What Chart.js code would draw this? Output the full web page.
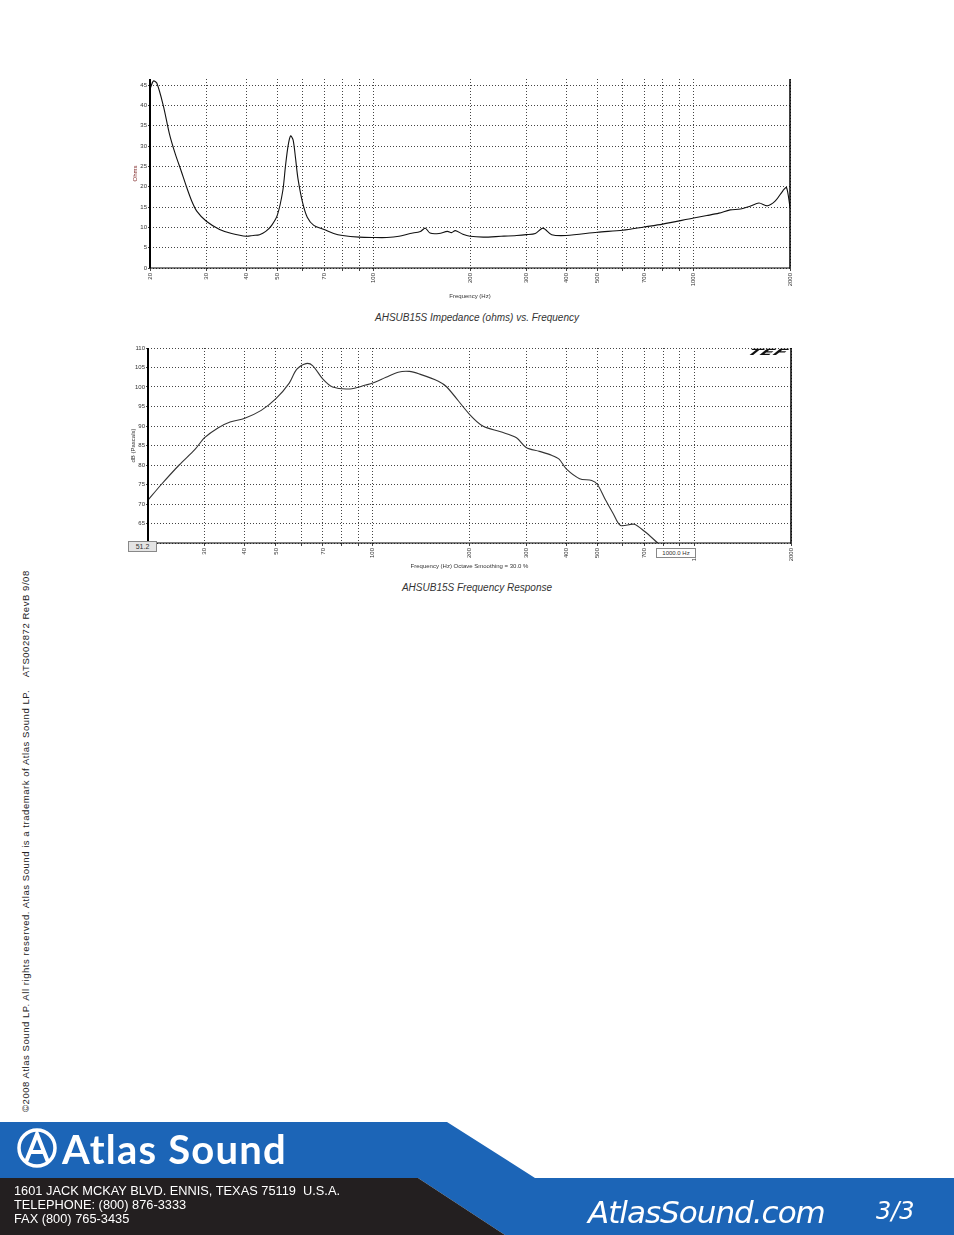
<!DOCTYPE html>
<html><head><meta charset="utf-8">
<script src="https://cdn.jsdelivr.net/npm/chart.js@4"></script>
<style>
body{margin:0;width:954px;height:1235px;position:relative;background:#fff;font-family:"Liberation Sans",Arial,sans-serif;overflow:hidden}
.abs{position:absolute}
.cap{position:absolute;width:954px;text-align:center;font-style:italic;font-size:10px;color:#333}
</style></head><body>
<div class="abs" style="left:132px;top:70px;width:678px;height:230px"><canvas id="c1" width="678" height="230"></canvas></div>
<div class="cap" style="top:312px">AHSUB15S Impedance (ohms) vs. Frequency</div>
<div class="abs" style="left:130px;top:340px;width:681px;height:230px"><canvas id="c2" width="681" height="230"></canvas></div>
<div class="cap" style="top:582px">AHSUB15S Frequency Response</div>
<div class="abs" style="left:128px;top:541px;width:27px;height:9px;background:#e4e4e4;border:1px solid #888;font-size:7px;line-height:9px;text-align:center;color:#333">51.2</div>
<div class="abs" style="left:656px;top:548px;width:38px;height:8px;background:#fff;border:1px solid #888;font-size:6px;line-height:8px;text-align:center;color:#333">1000.0 Hz</div>
<div class="abs" style="left:752px;top:348px;font-size:13px;line-height:13px;font-weight:bold;font-style:italic;color:#111;transform:scale(1.45,0.65) skewX(-20deg);transform-origin:top left;font-family:'DejaVu Sans',sans-serif">TEF</div>
<div class="abs" style="left:20px;top:1112px;transform:rotate(-90deg);transform-origin:top left;font-size:9.5px;white-space:nowrap;color:#222;letter-spacing:0.55px">©2008 Atlas Sound LP. All rights reserved. Atlas Sound is a trademark of Atlas Sound LP. &nbsp;&nbsp;&nbsp;ATS002872 RevB 9/08</div>
<svg class="abs" style="left:0;top:0" width="954" height="1235">
<polygon points="0,1122 447,1122 535,1178 954,1178 954,1235 505,1235 418,1178 0,1178" fill="#1c65b7"/>
<polygon points="0,1178 418,1178 505,1235 0,1235" fill="#231f20"/>
<circle cx="37" cy="1148" r="18" fill="none" stroke="#fff" stroke-width="3.5"/>
<path d="M26,1162 L37,1134 L48,1162 M31,1152 L44,1152" fill="none" stroke="#fff" stroke-width="4"/>
</svg>
<div class="abs" style="left:62px;top:1125px;font-family:Lato,sans-serif;font-weight:bold;font-size:40px;color:#fff;letter-spacing:1.2px">Atlas Sound</div>
<div class="abs" style="left:14px;top:1184px;font-size:12.8px;line-height:14px;color:#fff">1601 JACK MCKAY BLVD. ENNIS, TEXAS 75119&nbsp; U.S.A.<br>TELEPHONE: (800) 876-3333<br>FAX (800) 765-3435</div>
<div class="abs" style="left:588px;top:1194px;font-size:31px;font-style:italic;color:#fff;font-family:'DejaVu Sans',sans-serif;letter-spacing:-1px">AtlasSound.com</div>
<div class="abs" style="left:876px;top:1197px;font-size:24px;font-style:italic;color:#fff;font-family:'DejaVu Sans',sans-serif">3/3</div>
<script>
const gridFreqs=[20,30,40,50,60,70,80,90,100,200,300,400,500,600,700,800,900,1000,2000];
const labeledFreqs=[20,30,40,50,70,100,200,300,400,500,700,1000,2000];
const impFreq=[20,20.5,21,22,23,24,25,26,27,28,30,33,36,40,42,44,46,48,50,52,53,54,55,56,57,58,60,62,65,70,75,80,90,100,110,120,130,140,145,150,160,170,175,180,190,200,220,250,280,300,320,338,360,400,500,600,700,800,1000,1100,1200,1300,1400,1500,1600,1700,1800,1900,1950,2000];
const impOhms=[44,46,45.5,40,33,28,24,20,16.5,14,11.5,9.5,8.5,7.8,8.0,8.2,9.0,10.5,13,19,25,30,32.5,31.5,27,22,16,12.5,10.5,9.5,8.5,8.0,7.6,7.5,7.5,7.8,8.5,9.0,9.8,8.6,8.5,9.0,8.7,9.2,8.3,7.8,7.6,7.8,8.0,8.2,8.5,9.8,8.2,8.0,8.8,9.3,10.1,10.8,12.3,12.9,13.5,14.3,14.5,15.2,16.0,15.3,16.5,19.0,19.8,15.0];
const frFreq=[20,22,25,28,30,33,36,40,45,50,55,58,62,65,70,75,85,95,100,110,120,130,140,160,170,200,220,250,280,300,330,360,380,400,440,480,500,530,560,590,650,700,770];
const frDb=[71,75,80,84,87,89.5,91,92,94,97,101,104.5,106,105.5,102,100,99.5,100.5,101,102.5,103.8,104,103.3,101.5,100,93,90,88.5,87,84.5,83.5,82.5,81.5,79,76.5,76,75,71,67.5,64.5,64.8,63,60];
const impTicks=[0,5,10,15,20,25,30,35,40,45];
const frTicks=[60,65,70,75,80,85,90,95,100,105,110];

function xy(xs,ys){return xs.map((x,i)=>({x:x,y:ys[i]}));}
const frame={id:'frame',afterDraw(c){const a=c.chartArea,g=c.ctx;g.save();g.strokeStyle='#000';g.lineWidth=2;g.beginPath();g.moveTo(a.left,a.top);g.lineTo(a.left,a.bottom);g.stroke();g.lineWidth=1.5;g.beginPath();g.moveTo(a.right,a.top);g.lineTo(a.right,a.bottom);g.stroke();g.lineWidth=1;g.beginPath();g.moveTo(a.left,a.bottom);g.lineTo(a.right,a.bottom);g.stroke();g.restore();}};
function make(id,xs,ys,yT,ymin,ymax,ytitle,ytcol,xtitle,pad,lc){
 new Chart(document.getElementById(id),{type:'line',
  data:{datasets:[{data:xy(xs,ys),borderColor:lc,borderWidth:1.1,pointRadius:0,tension:0.3,fill:false}]},
  options:{responsive:false,animation:false,layout:{padding:{top:pad,right:20,left:0,bottom:0}},
   plugins:{legend:{display:false},tooltip:{enabled:false}},
   scales:{
    x:{type:'logarithmic',min:20,max:2000,
     afterBuildTicks(s){s.ticks=gridFreqs.map(v=>({value:v}));},
     afterFit(s){s.height=pad===9?32:27;},
     ticks:{autoSkip:false,minRotation:90,maxRotation:90,font:{size:6},color:'#333',padding:2,callback:(v)=>labeledFreqs.includes(v)&&!(id==='c2'&&v===20)?String(v):''},
     grid:{color:'#444',lineWidth:1,tickLength:3},border:{display:false},
     title:{display:true,text:xtitle,font:{size:6},color:'#333',padding:{top:0,bottom:0}}},
    y:{min:ymin,max:ymax,
     afterBuildTicks(s){s.ticks=yT.map(v=>({value:v}));},
     afterFit(s){s.width=18;},
     ticks:{font:{size:6},color:'#333',padding:1},
     grid:{color:'#444',lineWidth:1,tickLength:2},border:{display:false},
     title:{display:true,text:ytitle,font:{size:6},color:ytcol,padding:{top:0,bottom:0}}}}},
  plugins:[frame]});
}
Chart.defaults.font.family='"Liberation Sans",Arial,sans-serif';
Chart.defaults.scale.border={dash:[1,2]};
Chart.defaults.borderColor='#444';
make('c1',impFreq,impOhms,impTicks,0,46.5,'Ohms','#7a1f1f','Frequency (Hz)',9,'#111');
make('c2',frFreq,frDb,frTicks,60,110,'dB (Pascals)','#333','Frequency (Hz) Octave Smoothing = 30.0 %',8,'#333');
</script>
</body></html>
